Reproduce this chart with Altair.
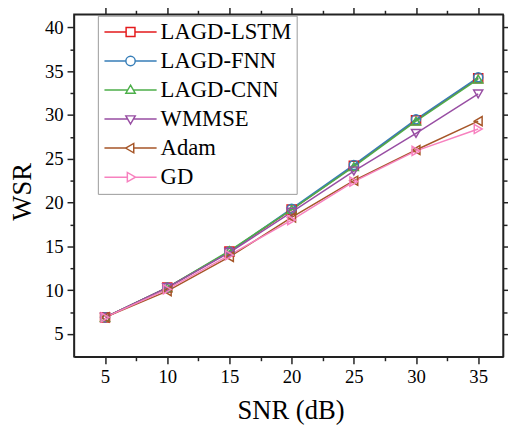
import altair as alt
import pandas as pd

snr = [5, 10, 15, 20, 25, 30, 35]
series_names = ["LAGD-LSTM", "LAGD-FNN", "LAGD-CNN", "WMMSE", "Adam", "GD"]
lagd_lstm = [6.9, 10.3, 14.4, 19.2, 24.2, 29.4, 34.2]
lagd_fnn = [6.9, 10.3, 14.4, 19.3, 24.3, 29.5, 34.3]
lagd_cnn = [6.9, 10.3, 14.5, 19.2, 24.1, 29.3, 34.1]
wmmse = [6.9, 10.3, 14.3, 18.9, 23.6, 27.9, 32.4]
adam = [6.9, 9.9, 13.8, 18.3, 22.5, 26.0, 29.3]
gd = [6.9, 10.1, 14.0, 18.0, 22.4, 25.9, 28.4]
colors = ["#e41a1c", "#377eb8", "#4daf4a", "#984ea3", "#a65628", "#f781bf"]
shapes = ["square", "circle", "triangle-up", "triangle-down", "triangle-left", "triangle-right"]
legend_paths = [
    "M-5.3,0H-0.9M0.9,0H5.3M-0.9,-0.9H0.9V0.9H-0.9Z",
    "M-5.3,0H-0.95M0.95,0H5.3M-0.95,0A0.95,0.95 0 1,0 0.95,0A0.95,0.95 0 1,0 -0.95,0Z",
    "M-5.3,0H-0.58M0.58,0H5.3M0,-1L0.95,0.65H-0.95Z",
    "M-5.3,0H-0.58M0.58,0H5.3M0,1L0.95,-0.65H-0.95Z",
    "M-5.3,0H-1M0.65,0H5.3M-1,0L0.65,-0.95V0.95Z",
    "M-5.3,0H-0.65M1,0H5.3M1,0L-0.65,-0.95V0.95Z",
]

values = [lagd_lstm, lagd_fnn, lagd_cnn, wmmse, adam, gd]
rows = []
for i, (name, vals) in enumerate(zip(series_names, values)):
    for x, v in zip(snr, vals):
        rows.append({"snr": x, "wsr": v, "series": name, "order": i})
df = pd.DataFrame(rows)

FONT = "Liberation Serif"
xticks = [5, 7.5, 10, 12.5, 15, 17.5, 20, 22.5, 25, 27.5, 30, 32.5, 35]
yticks = [5, 7.5, 10, 12.5, 15, 17.5, 20, 22.5, 25, 27.5, 30, 32.5, 35, 37.5, 40]
minor_test = "datum.value % 5 !== 0"
tick_size = {"condition": {"test": minor_test, "value": 4}, "value": 7}
grid_dash = {"condition": {"test": minor_test, "value": [2, 2]}, "value": [1, 0]}
grid_color = {"condition": {"test": minor_test, "value": "#e6e6e6"}, "value": "#d4d4d4"}

xscale = alt.Scale(domain=[2.5, 37], nice=False, zero=False)
yscale = alt.Scale(domain=[2.4, 41.5], nice=False, zero=False)
cscale = alt.Scale(domain=series_names, range=colors)

xaxis = alt.Axis(values=xticks, labelExpr="datum.value % 5 === 0 ? datum.label : ''",
                 tickSize=tick_size, gridDash=grid_dash, gridColor=grid_color,
                 title="SNR (dB)", titleBaseline="alphabetic", titleX=220, titleY=63)
yaxis = alt.Axis(values=yticks, labelExpr="datum.value % 5 === 0 ? datum.label : ''",
                 tickSize=tick_size, gridDash=grid_dash, gridColor=grid_color,
                 title="WSR", titleBaseline="alphabetic", titleAngle=-90,
                 titleX=-44, titleY=180, titleAlign="center")

base = alt.Chart(df)

leg = alt.Legend(orient="none", legendX=24.3, legendY=1.5, title=None, symbolOpacity=1,
                 symbolFillColor="white")

legend_layer = base.mark_point(filled=False, opacity=0).encode(
    x=alt.X("snr:Q", scale=xscale, axis=None),
    y=alt.Y("wsr:Q", scale=yscale, axis=None),
    color=alt.Color("series:N", scale=cscale, legend=leg),
    shape=alt.Shape("series:N", scale=alt.Scale(domain=series_names, range=legend_paths),
                    legend=leg),
)

lines = base.mark_line(strokeWidth=1.5).encode(
    x=alt.X("snr:Q", scale=xscale, axis=xaxis),
    y=alt.Y("wsr:Q", scale=yscale, axis=yaxis),
    color=alt.Color("series:N", scale=cscale),
    detail="series:N",
    order=alt.Order("snr:Q"),
)

point_layers = []
for name, shp in zip(series_names, shapes):
    point_layers.append(
        base.transform_filter(alt.datum.series == name).mark_point(
            size=85, strokeWidth=1.5, filled=False, shape=shp, opacity=1
        ).encode(
            x=alt.X("snr:Q", scale=xscale, axis=None),
            y=alt.Y("wsr:Q", scale=yscale, axis=None),
            color=alt.Color("series:N", scale=cscale),
        )
    )

frame = base.mark_point(opacity=0).encode(
    x=alt.X("snr:Q", scale=xscale, axis=alt.Axis(orient="top", values=xticks, labels=False,
            title=None, grid=False, tickSize=tick_size)),
    y=alt.Y("wsr:Q", scale=yscale, axis=alt.Axis(orient="right", values=yticks, labels=False,
            title=None, grid=False, tickSize=tick_size)),
)

chart = alt.layer(legend_layer, lines, *point_layers, frame).resolve_axis(
    x="independent", y="independent"
).properties(
    width=436, height=348,
    autosize=alt.AutoSizeParams(type="none"),
    padding={"left": 67, "top": 3, "right": 5, "bottom": 68},
    background="white",
).configure_view(
    stroke="#222", strokeWidth=1.5
).configure_axis(
    labelFont=FONT, labelFontSize=19, labelColor="black", labelPadding=4,
    titleFont=FONT, titleFontSize=27, titleFontWeight="normal", titleColor="black",
    domainColor="#222", domainWidth=1.5, tickColor="#222", tickWidth=1.5,
).configure_legend(
    labelFont=FONT, labelFontSize=23, labelColor="black", labelLimit=400,
    symbolSize=100, symbolOffset=16.7, labelOffset=19, symbolStrokeWidth=1.5,
    padding=5, rowPadding=5.5, strokeColor="#999", fillColor="white",
)

chart.save("out.html", embed_options={"renderer": "svg", "actions": False})
